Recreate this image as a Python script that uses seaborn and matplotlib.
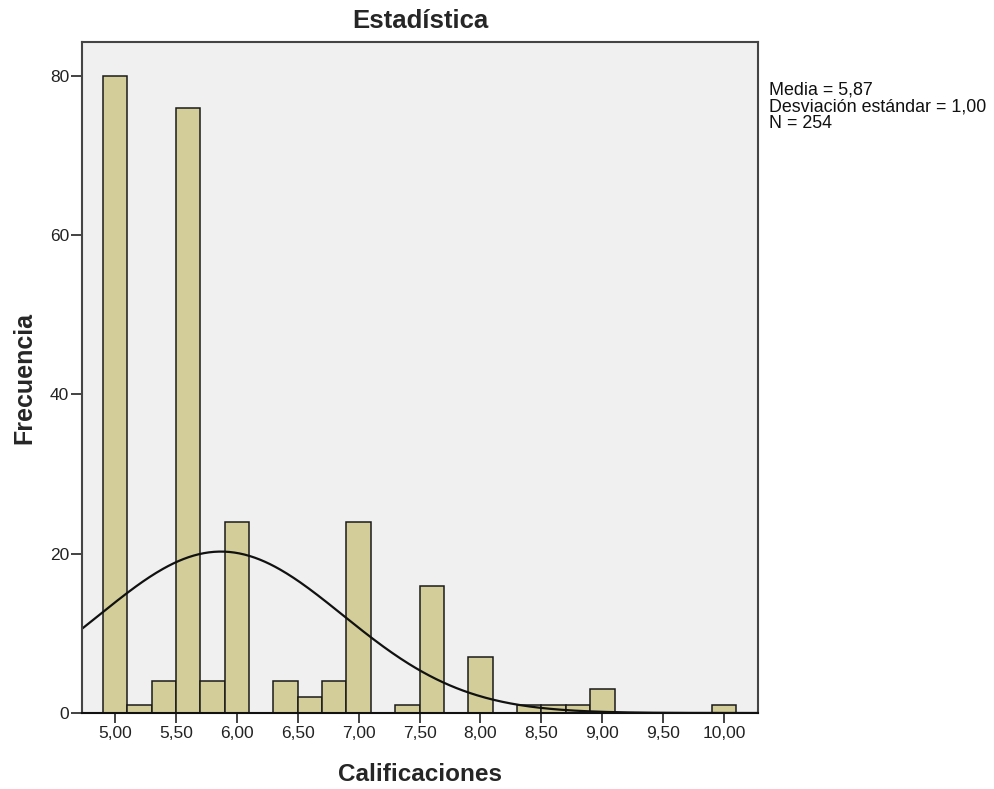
import numpy as np
import pandas as pd
import matplotlib
matplotlib.use("Agg")
import matplotlib.pyplot as plt
import seaborn as sns

# Grade bins (centres) and their frequencies
grades = [5.0, 5.2, 5.4, 5.6, 5.8, 6.0, 6.4, 6.6, 6.8, 7.0, 7.4, 7.6, 8.0,
          8.4, 8.6, 8.8, 9.0, 10.0]
counts = [80, 1, 4, 76, 4, 24, 4, 2, 4, 24, 1, 16, 7, 1, 1, 1, 3, 1]

mean_val = 5.87
sd_val = 1.00
n_total = 254
bin_width = 0.2

x_ticks = [5.0, 5.5, 6.0, 6.5, 7.0, 7.5, 8.0, 8.5, 9.0, 9.5, 10.0]
y_ticks = [0, 20, 40, 60, 80]

df = pd.DataFrame({"Calificaciones": grades, "n": counts})

sns.set_style("white")
plt.rcParams["font.family"] = ["Liberation Sans", "DejaVu Sans"]

fig = plt.figure(figsize=(9.95, 7.89), dpi=100)
ax = fig.add_axes([0.0821, 0.0963, 0.6800, 0.8501])
ax.set_facecolor("#F0F0F0")

sns.histplot(data=df, x="Calificaciones", weights="n",
             binwidth=bin_width, binrange=(4.9, 10.1),
             color="#D3CE99", alpha=1.0, edgecolor="#1a1a1a", linewidth=1.1,
             ax=ax)

# Normal curve scaled to counts
xs = np.linspace(4.727, 10.28, 400)
ys = n_total * bin_width * np.exp(-0.5 * ((xs - mean_val) / sd_val) ** 2) / (sd_val * np.sqrt(2 * np.pi))
sns.lineplot(x=xs, y=ys, color="#111111", linewidth=1.6, ax=ax)

ax.set_xlim(4.727, 10.28)
ax.set_ylim(0, 84.2)
ax.set_xticks(x_ticks)
ax.set_xticklabels([f"{v:.2f}".replace(".", ",") for v in x_ticks])
ax.set_yticks(y_ticks)
ax.set_yticklabels([str(v) for v in y_ticks])
ax.tick_params(axis="both", direction="out", width=1.2,
               colors="#222222", labelsize=12.5, bottom=True, left=True)
ax.tick_params(axis="x", length=7, pad=2.5)
ax.tick_params(axis="y", length=8, pad=1)

for side in ["left", "top", "right"]:
    ax.spines[side].set_color("#444444")
    ax.spines[side].set_linewidth(1.5)
ax.spines["bottom"].set_color("#111111")
ax.spines["bottom"].set_linewidth(1.5)

ax.set_xlabel("Calificaciones", fontsize=17.5, fontweight="bold", labelpad=16)
ax.set_ylabel("Frecuencia", fontsize=18, fontweight="bold", labelpad=10)
ax.set_title("Estadística", fontsize=18.5, fontweight="bold", pad=10)

fig.text(0.773, 0.897,
         "Media = 5,87\nDesviación estándar = 1,00\nN = 254",
         fontsize=12.9, va="top", ha="left", linespacing=1.0, color="#111111")

fig.savefig("out.png", dpi=100, facecolor="white")
